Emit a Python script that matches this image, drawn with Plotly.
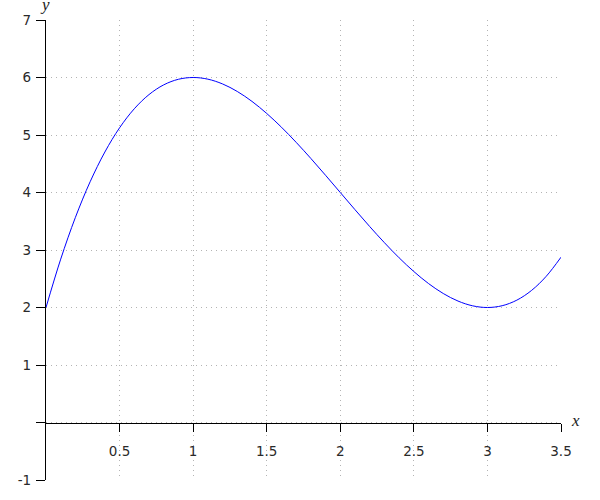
import plotly.graph_objects as go

x_vals = [0.0, 0.1, 0.2, 0.3, 0.4, 0.5, 0.6, 0.7, 0.8, 0.9, 1.0, 1.1, 1.2, 1.3, 1.4, 1.5,
          1.6, 1.7, 1.8, 1.9, 2.0, 2.1, 2.2, 2.3, 2.4, 2.5, 2.6, 2.7, 2.8, 2.9, 3.0, 3.1,
          3.2, 3.3, 3.4, 3.5]
y_vals = [2.0, 2.841, 3.568, 4.187, 4.704, 5.125, 5.456, 5.703, 5.872, 5.969, 6.0, 5.971,
          5.888, 5.757, 5.584, 5.375, 5.136, 4.873, 4.592, 4.299, 4.0, 3.701, 3.408, 3.127,
          2.864, 2.625, 2.416, 2.243, 2.112, 2.029, 2.0, 2.031, 2.128, 2.297, 2.544, 2.875]

x_ticks = [0.5, 1, 1.5, 2, 2.5, 3, 3.5]
x_tick_text = ["0.5", "1", "1.5", "2", "2.5", "3", "3.5"]
y_ticks = [-1, 0, 1, 2, 3, 4, 5, 6, 7]
y_tick_text = ["-1", "", "1", "2", "3", "4", "5", "6", "7"]

fig = go.Figure()
fig.add_trace(go.Scatter(x=x_vals, y=y_vals, mode="lines", line=dict(color="#0000ff", width=1, shape="spline"),
                         hoverinfo="skip", showlegend=False))

tick_font = dict(family="DejaVu Sans", size=13.5, color="#2a2a2a")
grid = dict(showgrid=True, gridcolor="#b4b4b4", griddash="1px,4px", gridwidth=1)

fig.update_layout(
    width=600, height=500,
    margin=dict(l=46, r=39, t=20, b=20, autoexpand=False),
    paper_bgcolor="white", plot_bgcolor="white",
    xaxis=dict(range=[0, 3.5], tickvals=x_ticks, ticktext=x_tick_text, anchor="free", position=0.125,
               showline=True, linecolor="black", linewidth=1.2, ticks="outside", ticklen=8, tickwidth=1.2,
               tickcolor="black", zeroline=False, tickfont=tick_font, automargin=False,
               ticklabelstandoff=8, **grid),
    yaxis=dict(range=[-1, 7], tickvals=y_ticks, ticktext=y_tick_text,
               showline=True, linecolor="black", linewidth=1.2, ticks="outside", ticklen=9, tickwidth=1.2,
               tickcolor="black", zeroline=False, tickfont=tick_font, automargin=False,
               ticklabelstandoff=2, **grid),
    annotations=[
        dict(x=3.5, y=0, xref="x", yref="y", text="<i>x</i>", showarrow=False, xanchor="left", yanchor="middle",
             xshift=8, yshift=2, font=dict(family="Liberation Serif", size=17, color="#222222")),
        dict(x=0, y=7, xref="x", yref="y", text="<i>y</i>", showarrow=False, xanchor="center", yanchor="bottom",
             xshift=-1, yshift=4, font=dict(family="Liberation Serif", size=17, color="#222222")),
    ],
)

fig.write_html("out.html", post_script="document.body.style.margin='0';",
               config={"displayModeBar": False})
